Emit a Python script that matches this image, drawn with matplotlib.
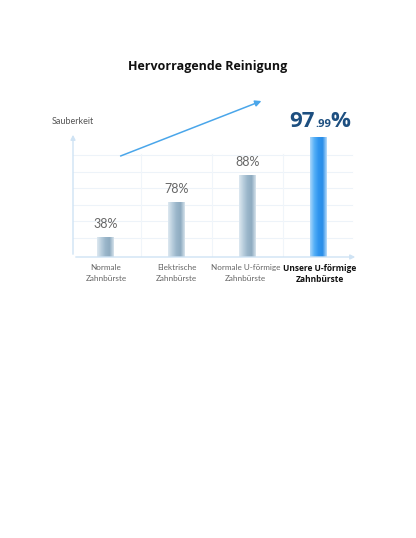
import matplotlib.pyplot as plt
import numpy as np
from matplotlib.patches import Rectangle, FancyArrowPatch
from matplotlib.colors import LinearSegmentedColormap

# Daten
kategorien = ['Normale\nZahnbürste', 'Elektrische\nZahnbürste',
              'Normale U-förmige\nZahnbürste', 'Unsere U-förmige\nZahnbürste']
werte = ['38%', '78%', '88%', '97.99%']
# sichtbare Balkenhöhen (nicht proportional im Original)
balken_hoehen = [20, 55, 82, 120]

W, H = 416, 538
fig = plt.figure(figsize=(W / 100, H / 100), dpi=100)
plt.rcParams['font.family'] = ['Open Sans', 'DejaVu Sans']

def fx(px):
    return px / W

def fy(py):
    return 1 - py / H

# Achsen: y-Achse bei x=73, Basislinie bei y=257
ax = fig.add_axes([fx(73), fy(257), fx(358 - 73), (257 - 132) / H])
x = np.arange(len(kategorien))
for s in ax.spines.values():
    s.set_visible(False)
ax.set_xticks([])
ax.set_yticks([])

# Raster
for gy in [19, 35.5, 52, 68.5, 85, 101.5]:
    ax.axhline(gy, color='#edf3f9', lw=0.8, zorder=0, xmax=0.98)
for gx in [0.5, 1.5, 2.5]:
    ax.axvline(gx, color='#f0f5fa', lw=0.8, zorder=0, ymax=0.82)

# Achsenpfeile
ax.annotate('', xy=(0, 1), xytext=(0, 0), xycoords='axes fraction',
            arrowprops=dict(arrowstyle='-|>', color='#cfe3f4', lw=1.0,
                            mutation_scale=7))
ax.annotate('', xy=(1, 0), xytext=(0, 0), xycoords='axes fraction',
            arrowprops=dict(arrowstyle='-|>', color='#cfe3f4', lw=1.0,
                            mutation_scale=7))

# Balken mit Farbverlauf
grau = LinearSegmentedColormap.from_list(
    'grau', ['#dde8f0', '#b9cedd', '#9ab6ca', '#8eabc0', '#d6e3ec'])
blau = LinearSegmentedColormap.from_list(
    'blau', ['#a9d6fb', '#55b0f7', '#2f95ee', '#2a8de8', '#b6dcfb'])
breite = 0.24
for i, h in enumerate(balken_hoehen):
    cmap = blau if i == 3 else grau
    x0 = x[i] - breite / 2
    rect = Rectangle((x0, 0), breite, h, facecolor='none', edgecolor='none')
    ax.add_patch(rect)
    img = ax.imshow(np.linspace(0, 1, 64).reshape(1, -1), cmap=cmap,
                    extent=[x0, x0 + breite, 0, h], aspect='auto', zorder=2)
    img.set_clip_path(rect)
ax.set_xlim(-0.465, 3.56)
ax.set_ylim(0, 125)

# Werte
for i in range(3):
    ax.annotate(werte[i], (x[i], balken_hoehen[i]), xytext=(0, 5),
                textcoords='offset points', ha='center', va='bottom',
                fontsize=9, color='#666666', family=['Lato', 'DejaVu Sans'])
fig.text(fx(315), fy(127), '97', fontsize=16, fontweight='bold',
         color='#1d4f80', ha='right', va='baseline')
fig.text(fx(315), fy(127), '.99', fontsize=8, fontweight='bold',
         color='#1d4f80', ha='left', va='baseline')
fig.text(fx(330), fy(127), '%', fontsize=16, fontweight='bold',
         color='#1d4f80', ha='left', va='baseline')

# Kategorien
for i, k in enumerate(kategorien):
    ax.annotate(k, (x[i], 0), xytext=(-1.5 if i == 2 else 1 if i == 3 else 0, -5),
                textcoords='offset points',
                ha='center', va='top', fontsize=6.0 if i == 3 else 5.9,
                linespacing=1.35 if i == 3 else 1.75,
                color='#111111' if i == 3 else '#666666',
                fontweight='bold' if i == 3 else 'normal',
                family=['Lato', 'DejaVu Sans'] if i < 3 else ['Open Sans', 'DejaVu Sans'])

# Beschriftungen
fig.text(fx(52), fy(121), 'Sauberkeit', fontsize=6.5, color='#555555',
         ha='left', va='center', family=['Lato', 'DejaVu Sans'])
fig.text(0.5, fy(66), 'Hervorragende Reinigung', fontsize=9,
         fontweight='bold', color='#111111', ha='center', va='center')

# Trendpfeil
fig.patches.append(FancyArrowPatch(
    (fx(118), fy(157)), (fx(264), fy(100)), transform=fig.transFigure,
    arrowstyle='-|>', mutation_scale=9, color='#4aa6ea', lw=1.1))

plt.savefig('out.png', dpi=100)
plt.close()
